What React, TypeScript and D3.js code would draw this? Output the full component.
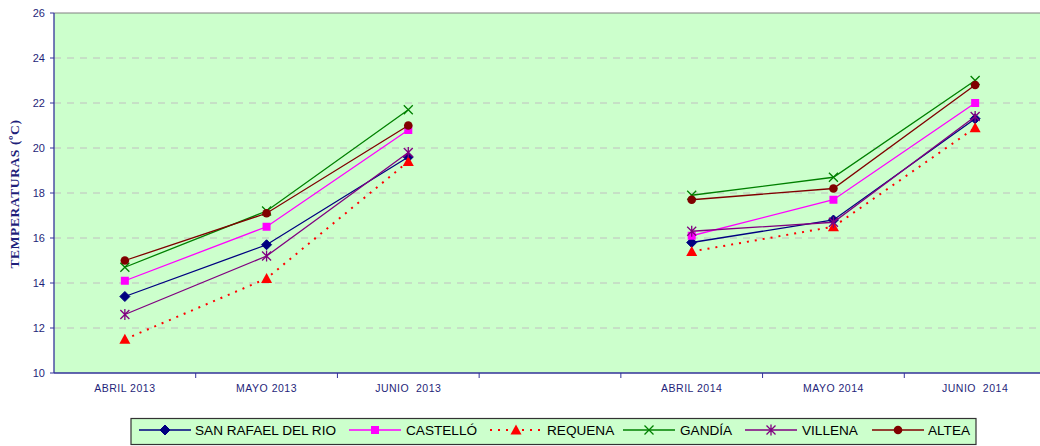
import React from "react";
import * as d3 from "d3";

const categories = ["ABRIL 2013", "MAYO 2013", "JUNIO  2013", "", "ABRIL 2014", "MAYO 2014", "JUNIO  2014"];
const yTicks = [10, 12, 14, 16, 18, 20, 22, 24, 26];

const sanRafael = [13.4, 15.7, 19.6, null, 15.8, 16.8, 21.3];
const castello = [14.1, 16.5, 20.8, null, 16.1, 17.7, 22.0];
const requena = [11.5, 14.2, 19.4, null, 15.4, 16.5, 20.9];
const gandia = [14.7, 17.2, 21.7, null, 17.9, 18.7, 23.0];
const villena = [12.6, 15.2, 19.8, null, 16.3, 16.7, 21.4];
const altea = [15.0, 17.1, 21.0, null, 17.7, 18.2, 22.8];

const seriesNames = ["SAN RAFAEL DEL RIO", "CASTELLÓ", "REQUENA", "GANDÍA", "VILLENA", "ALTEA"];
const seriesData = [sanRafael, castello, requena, gandia, villena, altea];
const seriesColors = ["#000080", "#FF00FF", "#FF0000", "#008000", "#800080", "#800000"];
const seriesMarkers = ["diamond", "square", "triangle", "x", "star", "circle"];

const W = 1040, H = 446;
const left = 54, right = 1046, top = 13, bottom = 373;

function Marker({ type, x, y, color }: { type: string; x: number; y: number; color: string }) {
  if (type === "diamond") {
    const s = 5;
    return <path d={`M${x},${y - s}L${x + s},${y}L${x},${y + s}L${x - s},${y}Z`} fill={color} stroke={color} />;
  }
  if (type === "square") return <rect x={x - 4} y={y - 4} width={8} height={8} fill={color} />;
  if (type === "triangle") {
    const s = 5.5;
    return <path d={`M${x},${y - s}L${x + s},${y + s - 1}L${x - s},${y + s - 1}Z`} fill={color} />;
  }
  if (type === "x") {
    const s = 4.5;
    return <path d={`M${x - s},${y - s}L${x + s},${y + s}M${x - s},${y + s}L${x + s},${y - s}`} stroke={color} strokeWidth={1.3} fill="none" />;
  }
  if (type === "star") {
    const s = 4.5;
    return <path d={`M${x - s},${y - s}L${x + s},${y + s}M${x - s},${y + s}L${x + s},${y - s}M${x},${y - s - 1}L${x},${y + s + 1}`} stroke={color} strokeWidth={1.3} fill="none" />;
  }
  return <circle cx={x} cy={y} r={4.3} fill={color} />;
}

export default function App() {
  const x = d3.scaleBand<number>().domain(d3.range(categories.length)).range([left, right]);
  const y = d3.scaleLinear().domain([10, 26]).range([bottom, top]);
  const cx = (i: number) => (x(i) as number) + x.bandwidth() / 2;

  const line = d3
    .line<number | null>()
    .defined((d) => d !== null)
    .x((_, i) => cx(i))
    .y((d) => y(d as number));

  const legendItems = [
    { lx: 139, tx: 195 },
    { lx: 349, tx: 406 },
    { lx: 490, tx: 547 },
    { lx: 623, tx: 680 },
    { lx: 745, tx: 802 },
    { lx: 872, tx: 928 },
  ];

  return (
    <svg width={W} height={H} style={{ position: "absolute", left: 0, top: 0 }} fontFamily="'Liberation Sans', Arial, sans-serif">
      <rect x={left} y={top} width={right - left} height={bottom - top} fill="#CCFFCC" />
      {yTicks.slice(1, -1).map((t) => (
        <line key={t} x1={left} x2={right} y1={y(t)} y2={y(t)} stroke="#C0C0C0" strokeDasharray="7,6" />
      ))}
      <line x1={left} x2={right} y1={top} y2={top} stroke="#808080" />
      {/* Y axis */}
      <line x1={left} x2={left} y1={top} y2={bottom} stroke="#333399" strokeWidth={1.3} />
      {yTicks.map((t) => (
        <g key={t}>
          <line x1={left - 4} x2={left} y1={y(t)} y2={y(t)} stroke="#333399" />
          <text x={45} y={y(t)} dy="0.35em" textAnchor="end" fontSize={11} fill="#1F1F7A">{t}</text>
        </g>
      ))}
      <text transform={`translate(19,194) rotate(-90)`} textAnchor="middle" fontFamily="'Liberation Serif', 'Times New Roman', serif" fontWeight="bold" fontSize={13.5} letterSpacing={0.6} fill="#1F1F7A">
        TEMPERATURAS (ºC)
      </text>
      {/* X axis */}
      <line x1={left} x2={right} y1={bottom} y2={bottom} stroke="#333399" strokeWidth={1.3} />
      {d3.range(1, categories.length).map((i) => (
        <line key={i} x1={x(i) as number} x2={x(i) as number} y1={bottom} y2={bottom + 5} stroke="#333399" />
      ))}
      {categories.map((c, i) => (
        <text key={i} x={cx(i)} y={392} textAnchor="middle" fontSize={10.5} letterSpacing={0.5} fill="#1F1F7A" style={{ whiteSpace: "pre" }} xmlSpace="preserve">
          {c}
        </text>
      ))}
      {/* series */}
      {seriesData.map((s, k) => (
        <g key={k}>
          <path d={line(s) || ""} fill="none" stroke={seriesColors[k]} strokeWidth={k === 2 ? 2 : 1.3} strokeDasharray={k === 2 ? "2,6" : undefined} />
          {s.map((v, i) => (v === null ? null : <Marker key={i} type={seriesMarkers[k]} x={cx(i)} y={y(v)} color={seriesColors[k]} />))}
        </g>
      ))}
      {/* legend */}
      <rect x={131} y={418.5} width={845} height={26} fill="#CCFFCC" stroke="#333333" strokeWidth={1.2} />
      {legendItems.map((it, k) => (
        <g key={k}>
          <line x1={it.lx} x2={it.lx + 52} y1={430} y2={430} stroke={seriesColors[k]} strokeWidth={k === 2 ? 2 : 1.3} strokeDasharray={k === 2 ? "2,6" : undefined} />
          <Marker type={seriesMarkers[k]} x={it.lx + 26} y={430} color={seriesColors[k]} />
          <text x={it.tx} y={430} dy="0.36em" fontSize={13.6} fill="#000">{seriesNames[k]}</text>
        </g>
      ))}
    </svg>
  );
}
